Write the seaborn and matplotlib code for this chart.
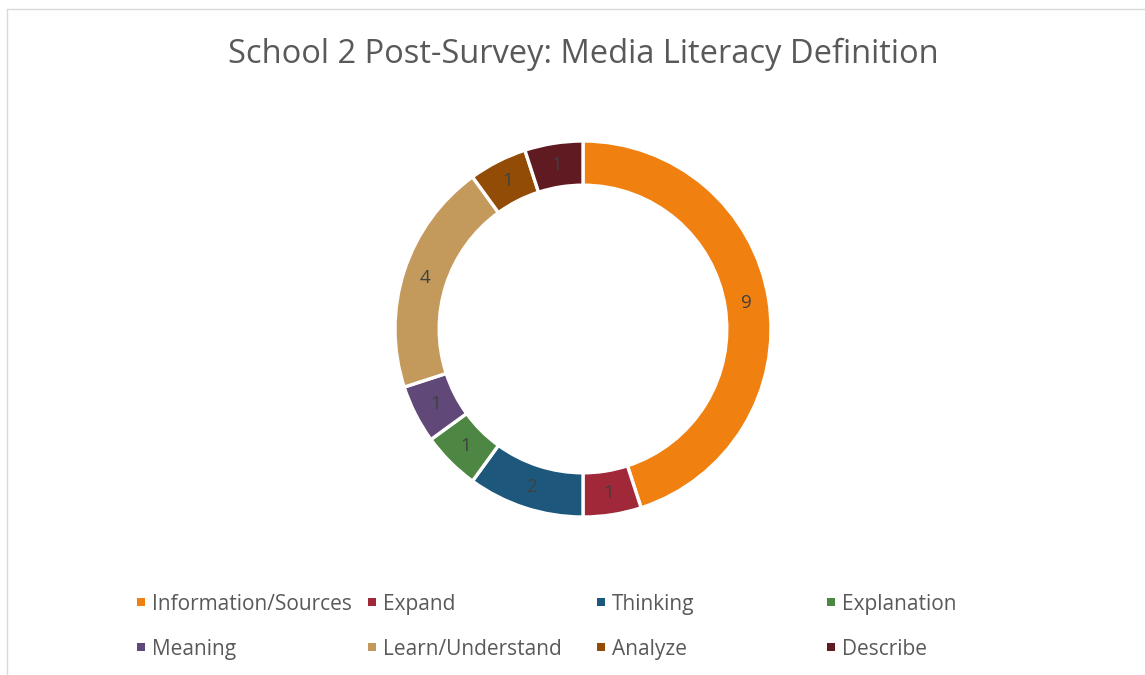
import matplotlib
matplotlib.use("Agg")
import matplotlib.pyplot as plt
from matplotlib.patches import Rectangle
from matplotlib.lines import Line2D
import seaborn as sns

# Survey response counts
categories = ["Information/Sources", "Expand", "Thinking", "Explanation",
              "Meaning", "Learn/Understand", "Analyze", "Describe"]
counts = [9, 1, 2, 1, 1, 4, 1, 1]
hex_colors = ["#F08010", "#A02838", "#1D587C", "#4E8743",
              "#604878", "#C49A5C", "#934C05", "#5F1A22"]
title_text = "School 2 Post-Survey: Media Literacy Definition"

sns.set_theme(style="white")
plt.rcParams["font.family"] = ["Open Sans", "DejaVu Sans"]
palette = sns.color_palette(hex_colors)

W, H = 1145, 675
fig = plt.figure(figsize=(W / 100, H / 100), dpi=100)
fig.patch.set_facecolor("white")

# Donut placement (pixel geometry converted to figure fractions)
cx, cy, r = 583, 329, 188
ax = fig.add_axes([(cx - r) / W, (H - cy - r) / H, 2 * r / W, 2 * r / H])
ring = 0.235
total = sum(counts)
wedges, _, autotexts = ax.pie(
    counts, colors=palette, startangle=90, counterclock=False,
    radius=1.0,
    wedgeprops=dict(width=ring, edgecolor="white", linewidth=2.4),
    autopct=lambda p: f"{round(p * total / 100)}",
    pctdistance=1 - ring / 2,
    textprops=dict(color="#404040", fontsize=13.5),
)
ax.set_xlim(-1.0, 1.0)
ax.set_ylim(-1.0, 1.0)
ax.set_aspect("equal")
ax.axis("off")

# Title
fig.text(cx / W, 1 - 54 / H, title_text, ha="center", va="center",
         fontsize=23.5, color="#595959")

# Legend: 4 equally spaced columns, 2 rows, texts share a common baseline
col_x = [137, 368, 597, 827]
row_y = [602, 647]
for i, (name, col) in enumerate(zip(categories, palette)):
    x = col_x[i % 4]
    y = row_y[i // 4]
    fig.patches.append(Rectangle((x / W, 1 - (y + 4) / H), 8 / W, 8 / H,
                                 transform=fig.transFigure, facecolor=col,
                                 edgecolor="none"))
    fig.text((x + 15) / W, 1 - (y + 8) / H, name, ha="left", va="baseline",
             fontsize=15, color="#595959")

# Chart-area frame (top and left edges visible)
fig.add_artist(Line2D([6.5 / W, 6.5 / W], [0, 1 - 9 / H], transform=fig.transFigure,
                      color="#D9D9D9", linewidth=1.0))
fig.add_artist(Line2D([6.5 / W, 1], [1 - 9 / H, 1 - 9 / H], transform=fig.transFigure,
                      color="#D9D9D9", linewidth=1.0))

fig.savefig("out.png", dpi=100, facecolor="white")
